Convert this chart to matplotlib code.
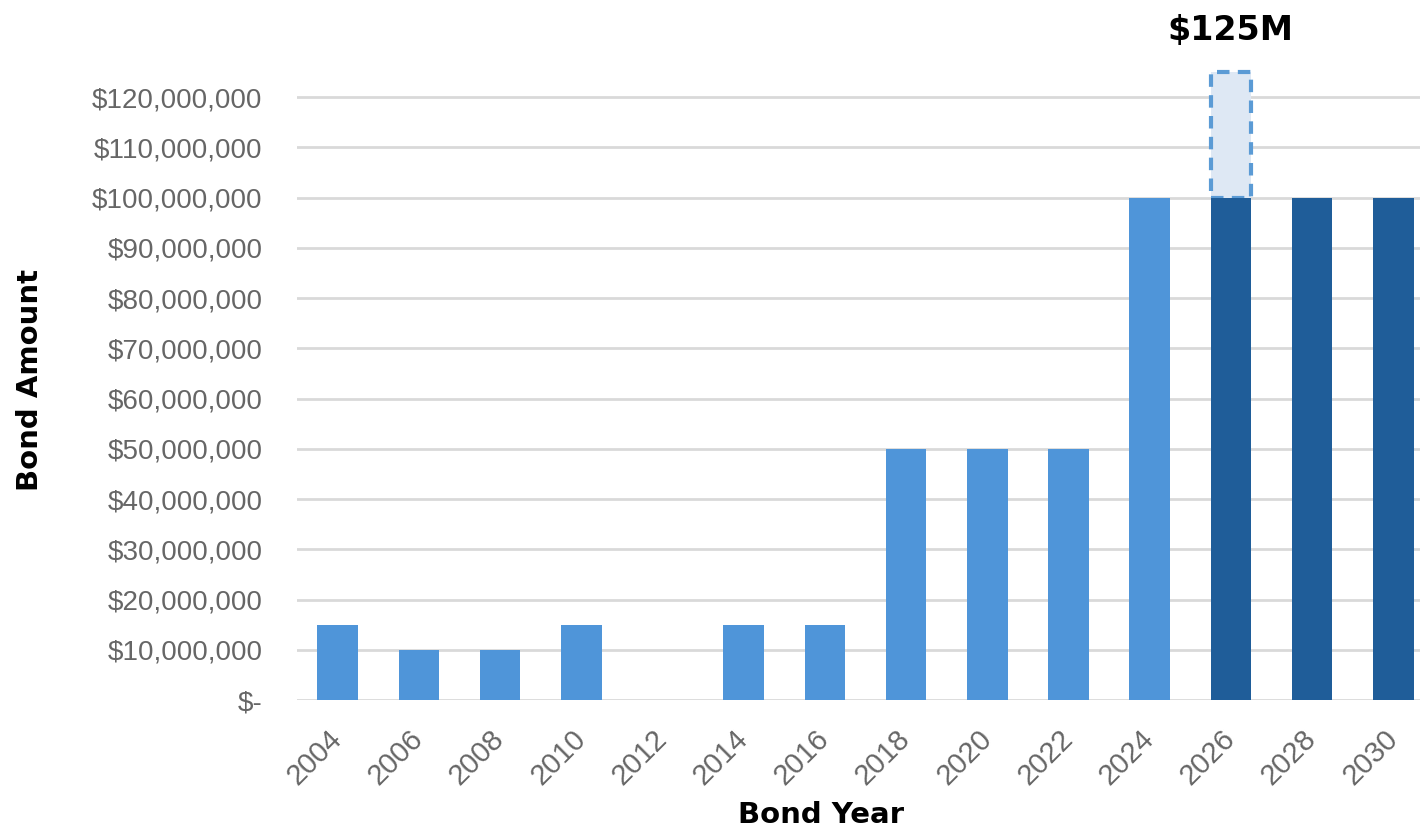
import numpy as np
import matplotlib
matplotlib.use('Agg')
import matplotlib.pyplot as plt
from matplotlib.ticker import FuncFormatter

# bond issues by year
years = ['2004', '2006', '2008', '2010', '2012', '2014', '2016',
         '2018', '2020', '2022', '2024', '2026', '2028', '2030']
amounts = np.array([15, 10, 10, 15, 0, 15, 15, 50, 50, 50, 100, 100, 100, 100]) * 1e6
future = [False] * 11 + [True] * 3
# proposed 2026 bond
proposed_year = '2026'
proposed_amount = 125e6
proposed_label = '$125M'

light = '#4F95D9'
dark = '#1F5D99'

fig = plt.figure(figsize=(14.2, 8.31), dpi=100)
ax = fig.add_axes([0.2092, 0.1576, 0.7908, 0.768])

x = np.arange(len(years))
colors = [dark if f else light for f in future]

i = years.index(proposed_year)
ax.bar(x[i], proposed_amount - amounts[i], bottom=amounts[i], width=0.5,
       color='#DEE8F4', edgecolor='#5B9BD5', linestyle=(0, (3, 2)),
       linewidth=3, zorder=2, clip_on=False)
ax.bar(x, amounts, width=0.5, color=colors, zorder=3)

ax.set_xlim(-0.5, 13.33)
ax.set_ylim(0, 127e6)
ax.set_yticks(np.arange(0, 121e6, 10e6))
ax.yaxis.set_major_formatter(FuncFormatter(lambda v, p: '$-' if v == 0 else '${:,.0f}'.format(v)))
ax.grid(axis='y', color='#D9D9D9', linewidth=2, zorder=0)
ax.set_axisbelow(True)
for s in ax.spines.values():
    s.set_visible(False)

ax.set_xticks(x)
ax.set_xticklabels(years, rotation=45, ha='right', va='center',
                   rotation_mode='anchor', fontsize=21,
                   color='#666666', family='Liberation Sans')
ax.tick_params(axis='both', length=0)
ax.tick_params(axis='x', pad=25)
ax.tick_params(axis='y', pad=25)
for t in ax.get_yticklabels():
    t.set_fontsize(20)
    t.set_color('#666666')
    t.set_family('Liberation Sans')

ax.text(x[i], 133.3e6, proposed_label, ha='center', va='center',
        fontsize=24, fontweight='bold', family='DejaVu Sans', clip_on=False)

fig.text(0.578, 0.019, 'Bond Year', ha='center', va='center',
         fontsize=21, fontweight='bold', family='DejaVu Sans')
fig.text(0.021, 0.543, 'Bond Amount', ha='center', va='center', rotation=90,
         fontsize=21, fontweight='bold', family='DejaVu Sans')

fig.savefig('out.png', dpi=100)
